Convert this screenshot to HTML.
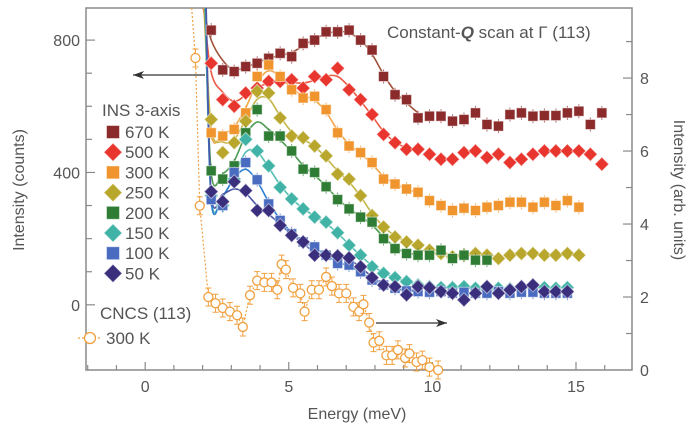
<!DOCTYPE html>
<html><head><meta charset="utf-8">
<style>
html,body{margin:0;padding:0;background:#fff;}
svg{display:block;font-family:"Liberation Sans",sans-serif;}
</style></head>
<body>
<svg id="chart" width="700" height="435" viewBox="0 0 700 435" xmlns="http://www.w3.org/2000/svg">
<g id="axes"></g>
<g id="series"></g>
<g id="legend"></g>
</svg>
<script>
const NS="http://www.w3.org/2000/svg";
const xTicks=[0,5,10,15];
const yLeftTicks=[0,400,800];
const yRightTicks=[0,2,4,6,8];
const seriesNames=["670 K","500 K","300 K","250 K","200 K","150 K","100 K","50 K"];
const E0=2.3, dE=0.4;
const v670=[830,710,705,720,730,745,760,750,790,800,825,825,830,800,770,690,635,620,565,570,570,555,560,580,545,540,575,580,570,572,572,580,585,545,580];
const v500=[730,620,600,640,655,675,675,680,655,690,680,715,650,620,575,515,490,470,470,455,440,440,460,465,445,455,430,440,455,465,465,465,465,455,425];
const v300=[520,510,530,580,690,725,690,650,625,630,590,520,480,460,430,380,365,350,340,315,300,285,292,285,295,300,310,310,295,310,300,315,295];
const v250=[560,460,490,555,645,640,565,510,505,480,450,395,380,330,270,235,205,190,180,165,155,145,150,155,150,140,150,155,155,150,150,155,150];
const v200=[405,380,420,520,590,510,510,465,410,400,357,318,290,265,250,200,170,155,150,150,165,140,150,135,135];
const v150=[330,300,380,500,465,420,355,320,290,265,250,218,180,150,115,95,82,70,60,55,52,52,55,50,45,50,48,50,55,52,50,52];
const v100=[318,300,400,430,378,305,255,215,190,175,150,125,120,100,75,60,50,42,40,38,40,35,38,35,35,40,35,38,38,35,35,35];
const v50=[342,312,372,345,285,285,240,210,190,150,150,148,142,115,82,60,55,30,55,52,40,35,15,35,55,35,45,55,60,40,40,40];
const cncsE=[1.75,1.9,2.2,2.45,2.7,2.95,3.2,3.4,3.65,3.9,4.15,4.4,4.6,4.75,4.9,5.15,5.4,5.55,5.8,6.05,6.3,6.5,6.75,7.0,7.25,7.45,7.6,7.8,7.95,8.15,8.4,8.6,8.8,9.05,9.2,9.45,9.65,9.9,10.2];
const cncsV=[8.55,4.5,2.0,1.83,1.7,1.6,1.5,1.18,2.05,2.45,2.4,2.4,2.2,2.9,2.75,2.25,2.1,1.6,2.2,2.2,2.55,2.3,2.1,2.1,1.73,1.6,1.8,1.3,0.75,0.8,0.4,0.4,0.55,0.33,0.45,0.22,0.27,0.08,0.0];

const X0=86,X1=632,YT=8,YB=370;
const xMin=-2.06,xMax=16.95,lMin=-197,lMax=897,rMin=0,rMax=9.92;
const xs=e=>X0+(e-xMin)/(xMax-xMin)*(X1-X0);
const yl=v=>YB-(v-lMin)/(lMax-lMin)*(YB-YT);
const yr=v=>YB-(v-rMin)/(rMax-rMin)*(YB-YT);

function mk(tag,attrs,parent){const el=document.createElementNS(NS,tag);for(const k in attrs)el.setAttribute(k,attrs[k]);parent.appendChild(el);return el;}
const axes=document.getElementById('axes'),sg=document.getElementById('series'),lg=document.getElementById('legend');
const AX="#8a8a8a",TX="#555";

// frame
let f=mk('path',{d:`M${X0},${YT}H${X1}V${YB}H${X0}Z`,fill:'none',stroke:AX,'stroke-width':1.5},axes);

// x ticks
for(let e=-2;e<=16;e++){const x=xs(e);const major=e%5===0;
 let t=mk('line',{x1:x,x2:x,y1:YB,y2:YB-(major?8:5),stroke:AX,'stroke-width':1.2},axes);
 }
xTicks.forEach(v=>{let t=mk('text',{x:xs(v),y:392,'text-anchor':'middle','font-size':16,fill:TX},axes);t.textContent=v;
 });
// left ticks
for(let v=-100;v<=800;v+=100){const y=yl(v);const major=v%400===0;
 let t=mk('line',{x1:X0,x2:X0+(major?9:6),y1:y,y2:y,stroke:AX,'stroke-width':1.2},axes);
 }
yLeftTicks.forEach(v=>{let t=mk('text',{x:80,y:yl(v)+6,'text-anchor':'end','font-size':16,fill:TX},axes);t.textContent=v;
 });
// right ticks
for(let v=1;v<=9;v++){const y=yr(v);const major=v%2===0;
 let t=mk('line',{x1:X1,x2:X1-(major?9:6),y1:y,y2:y,stroke:AX,'stroke-width':1.2},axes);
 }
yRightTicks.forEach(v=>{let t=mk('text',{x:640,y:yr(v)+6,'text-anchor':'start','font-size':16,fill:TX},axes);t.textContent=v;
 });
// axis titles
let a=mk('text',{x:357,y:419,'text-anchor':'middle','font-size':16,fill:TX},axes);a.textContent='Energy (meV)';

a=mk('text',{x:0,y:0,'text-anchor':'middle','font-size':16,fill:TX,transform:'translate(24,190) rotate(-90)'},axes);a.textContent='Intensity (counts)';

a=mk('text',{x:0,y:0,'text-anchor':'middle','font-size':16,fill:TX,transform:'translate(674,190) rotate(90)'},axes);a.textContent='Intensity (arb. units)';

a=mk('text',{x:387,y:38,'font-size':17,fill:TX},axes);a.innerHTML='Constant-<tspan font-weight="bold" font-style="italic">Q</tspan> scan at Γ (113)';


const series=[
 {n:seriesNames[0],v:v670,c:'#8b2b2b',lc:'#a0523a',s:'sq'},
 {n:seriesNames[1],v:v500,c:'#e8352e',lc:'#ec5a45',s:'di'},
 {n:seriesNames[2],v:v300,c:'#f0952e',lc:'#f2a64a',s:'sq'},
 {n:seriesNames[3],v:v250,c:'#b8a72c',lc:'#c4b545',s:'di'},
 {n:seriesNames[4],v:v200,c:'#2f7d34',lc:'#4a9a50',s:'sq'},
 {n:seriesNames[5],v:v150,c:'#40b3a6',lc:'#55c0b3',s:'di'},
 {n:seriesNames[6],v:v100,c:'#4a6cc0',lc:'#2e7fd0',s:'sq'},
 {n:seriesNames[7],v:v50,c:'#3a2f7c',lc:'#4b58a8',s:'di'}
];
function marker(shape,x,y,c,parent,sz){
 if(shape==='sq')return mk('rect',{x:x-sz/2,y:y-sz/2,width:sz,height:sz,fill:c,stroke:'#fff','stroke-opacity':0.5,'stroke-width':1},parent);
 const h=sz*0.7;return mk('path',{d:`M${x},${y-h}L${x+h},${y}L${x},${y+h}L${x-h},${y}Z`,fill:c,stroke:'#fff','stroke-opacity':0.5,'stroke-width':1},parent);
}
// fit lines
series.forEach((s,si)=>{
 const pts=[[xs(2.02+si*0.015),YT]];
 s.v.forEach((v,i)=>{const e=E0+i*dE;if(e>9.7)return;
  const p=s.v[i-1]!==undefined?s.v[i-1]:v,n=s.v[i+1]!==undefined?s.v[i+1]:v;
  pts.push([xs(e),yl((p+2*v+n)/4)]);});
 let d='M'+pts[0][0]+','+pts[0][1];
 for(let i=1;i<pts.length;i++){const p0=pts[Math.max(0,i-2)],p1=pts[i-1],p2=pts[i],p3=pts[Math.min(pts.length-1,i+1)];
  const c1=[p1[0]+(p2[0]-p0[0])/6,p1[1]+(p2[1]-p0[1])/6],c2=[p2[0]-(p3[0]-p1[0])/6,p2[1]-(p3[1]-p1[1])/6];
  d+=`C${c1[0]},${c1[1]} ${c2[0]},${c2[1]} ${p2[0]},${p2[1]}`;}
 const l=mk('path',{d:d,fill:'none',stroke:s.lc,'stroke-width':1.6},sg);
 
 
});
// markers
series.forEach(s=>{
 const g=mk('g',{},sg);
 
 
 s.v.forEach((v,i)=>{const x=xs(E0+i*dE),y=yl(v);
  const eb=mk('line',{x1:x,x2:x,y1:y-7,y2:y+7,stroke:s.c,'stroke-width':1,opacity:0.7},g);
  
  const m=marker(s.s,x,y,s.c,g,10);
  });
});
// CNCS
const cg=mk('g',{},sg);

let cd='M'+xs(1.62)+','+YT+' L'+xs(1.75)+','+yr(cncsV[0]);
cncsE.forEach((e,i)=>{cd+=' L'+xs(e)+','+yr(cncsV[i]);});
let cl=mk('path',{d:cd,fill:'none',stroke:'#f0a040','stroke-width':1.2,'stroke-dasharray':'2,2'},cg);

cncsE.forEach((e,i)=>{const x=xs(e),y=yr(cncsV[i]);
 const eb=mk('path',{d:`M${x},${y-9}V${y+9}M${x-3},${y-9}H${x+3}M${x-3},${y+9}H${x+3}`,stroke:'#f0a040','stroke-width':1},cg);
 
 const c=mk('circle',{cx:x,cy:y,r:4.5,fill:'#fff',stroke:'#f0a040','stroke-width':1.3},cg);
 });
// arrows
function arrow(x1,x2,y,name){const g=mk('g',{},sg);
 
 mk('line',{x1:x1,x2:x2,y1:y,y2:y,stroke:'#333','stroke-width':1.3},g);
 const dir=x2>x1?1:-1;mk('path',{d:`M${x2},${y}L${x2-dir*11},${y-4}L${x2-dir*8},${y}L${x2-dir*11},${y+4}Z`,fill:'#333'},g);}
arrow(205,133,75,'left-axis-arrow');
arrow(376,447,323,'right-axis-arrow');
// legend
let t=mk('text',{x:102,y:116,'font-size':17,fill:TX},lg);t.textContent='INS 3-axis';

series.forEach((s,i)=>{const y=132+i*20.2;const g=mk('g',{},lg);
 
 
 marker(s.s,113,y,s.c,g,13);
 const tt=mk('text',{x:125,y:y+6,'font-size':17,fill:TX},g);tt.textContent=s.n;});
t=mk('text',{x:100,y:319,'font-size':17,fill:TX},lg);t.textContent='CNCS (113)';

const cgL=mk('g',{},lg);

mk('line',{x1:78,x2:102,y1:338,y2:338,stroke:'#f0a040','stroke-width':1.2,'stroke-dasharray':'2,2'},cgL);
mk('circle',{cx:90,cy:338,r:5.5,fill:'#fff',stroke:'#f0a040','stroke-width':1.3},cgL);
t=mk('text',{x:106,y:344,'font-size':17,fill:TX},cgL);t.textContent='300 K';
</script>
</body></html>
